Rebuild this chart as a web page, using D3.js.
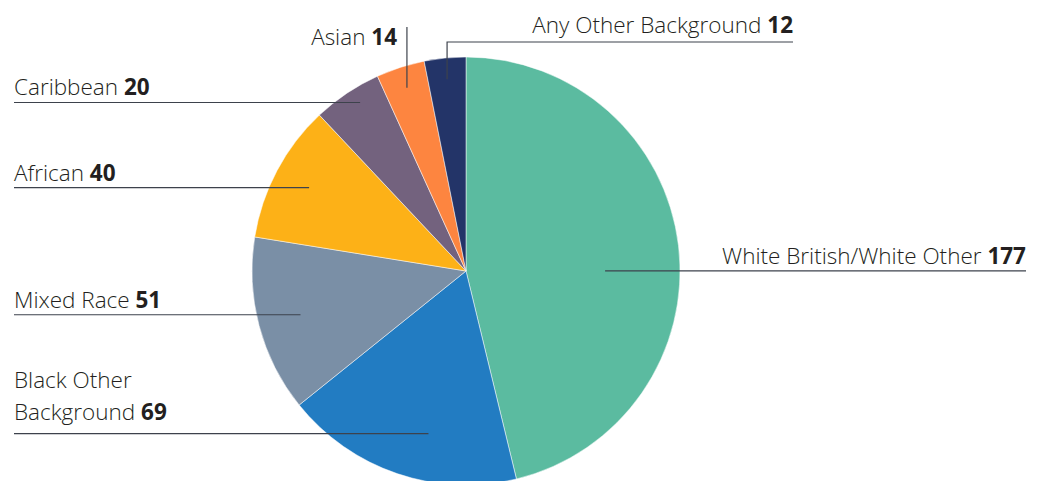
<!DOCTYPE html>
<html>
<head>
<meta charset="utf-8">
<script src="https://cdn.jsdelivr.net/npm/d3@7"></script>
<style>
  body { margin: 0; background: #fff; }
  svg { display: block; }
  text { font-family: "Open Sans", "Liberation Sans", sans-serif; font-weight: 300; fill: #231f20; }
</style>
</head>
<body>
<div id="chart"></div>
<script>
var categories = ["White British/White Other", "Black Other Background", "Mixed Race", "African", "Caribbean", "Asian", "Any Other Background"];
var values = [177, 69, 51, 40, 20, 14, 12];
var colors = ["#5bbba0", "#227cc2", "#7a8fa6", "#fdb117", "#73627e", "#fd8540", "#233468"];

var width = 1042, height = 481;
var cx = 466, cy = 271, radius = 214;

// label layout: anchor angle offset (deg) and radius factor, then how the leader runs
var layout = [
  {da: 6.8,  k: 0.65, side: "right", x: 1026},
  {da: -5.8, k: 0.78, side: "left",  x: 14},
  {da: 0,    k: 0.80, side: "left",  x: 14},
  {da: 0,    k: 0.83, side: "left",  x: 14},
  {da: 1.7,  k: 0.93, side: "left",  x: 14},
  {da: 0,    k: 0.90, side: "up",    x: 397, top: 27, base: 45},
  {da: 0,    k: 0.90, side: "upright", x: 793, top: 42, base: 33}
];

var data = categories.map(function(c, i) { return {name: c, value: values[i], i: i}; });

var svg = d3.select("#chart").append("svg")
    .attr("width", width)
    .attr("height", height);

var pie = d3.pie().sort(null).value(function(d) { return d.value; });
var arc = d3.arc().innerRadius(0).outerRadius(radius);
var arcs = pie(data);

var g = svg.append("g").attr("transform", "translate(" + cx + "," + cy + ")");

g.selectAll("path")
  .data(arcs)
  .enter().append("path")
    .attr("d", arc)
    .attr("fill", function(d) { return colors[d.data.i]; })
    .attr("stroke", "#fff")
    .attr("stroke-width", 0.5);

var lineColor = "#3d424c";
var fs = 22.5;

arcs.forEach(function(d) {
  var L = layout[d.data.i];
  var a = (d.startAngle + d.endAngle) / 2 + L.da * Math.PI / 180;
  var px = cx + radius * L.k * Math.sin(a);
  var py = cy - radius * L.k * Math.cos(a);
  var t;

  if (L.side == "left" || L.side == "right") {
    svg.append("line")
      .attr("x1", L.x).attr("x2", px)
      .attr("y1", py).attr("y2", py)
      .attr("stroke", lineColor).attr("stroke-width", 1.2);
    var anchor = L.side == "left" ? "start" : "end";
    if (d.data.name == "Black Other Background") {
      // two-line label
      svg.append("text").attr("x", L.x).attr("y", py - 46)
        .style("font-size", fs + "px").text("Black Other");
      t = svg.append("text").attr("x", L.x).attr("y", py - 14)
        .style("font-size", fs + "px");
      t.append("tspan").text("Background ");
    } else {
      t = svg.append("text").attr("x", L.x).attr("y", py - 7)
        .attr("text-anchor", anchor)
        .style("font-size", fs + "px");
      t.append("tspan").text(d.data.name + " ");
    }
  } else if (L.side == "up") {
    svg.append("line")
      .attr("x1", px).attr("x2", px)
      .attr("y1", py).attr("y2", L.top)
      .attr("stroke", lineColor).attr("stroke-width", 1.2);
    t = svg.append("text").attr("x", L.x).attr("y", L.base)
      .attr("text-anchor", "end")
      .style("font-size", fs + "px");
    t.append("tspan").text(d.data.name + " ");
  } else {
    svg.append("polyline")
      .attr("points", [[px, py], [px, L.top], [L.x, L.top]].join(" "))
      .attr("fill", "none")
      .attr("stroke", lineColor).attr("stroke-width", 1.2);
    t = svg.append("text").attr("x", L.x).attr("y", L.base)
      .attr("text-anchor", "end")
      .style("font-size", fs + "px");
    t.append("tspan").text(d.data.name + " ");
  }
  t.append("tspan").style("font-weight", 700).text(d.data.value);
});
</script>
</body>
</html>
